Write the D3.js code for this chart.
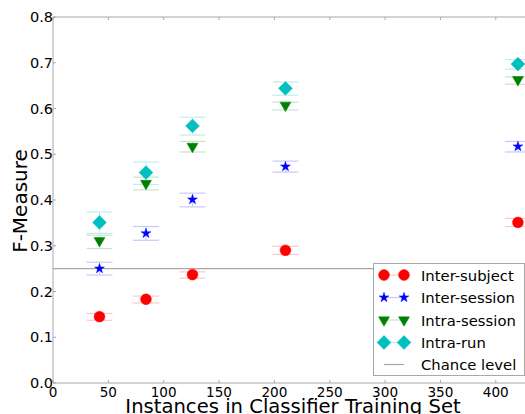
<!DOCTYPE html>
<html>
<head>
<meta charset="utf-8">
<script src="https://cdn.jsdelivr.net/npm/d3@7"></script>
<style>
  html, body { margin: 0; padding: 0; background: #fff; overflow: hidden; }
  svg { display: block; font-family: "DejaVu Sans", sans-serif; }
</style>
</head>
<body>
<div id="chart"></div>
<script>
// Data
const instances = [42, 84, 126, 210, 420];
const xTicks = [0, 50, 100, 150, 200, 250, 300, 350, 400];
const yTicks = [0.0, 0.1, 0.2, 0.3, 0.4, 0.5, 0.6, 0.7, 0.8];
const chanceLevel = 0.25;

const interSubject   = [0.145, 0.183, 0.237, 0.290, 0.351];
const interSubjectLo = [0.137, 0.175, 0.229, 0.281, 0.342];
const interSubjectHi = [0.152, 0.190, 0.243, 0.299, 0.360];

const interSession   = [0.250, 0.327, 0.401, 0.473, 0.517];
const interSessionLo = [0.236, 0.312, 0.385, 0.461, 0.505];
const interSessionHi = [0.264, 0.342, 0.415, 0.485, 0.528];

const intraSession   = [0.311, 0.436, 0.517, 0.607, 0.663];
const intraSessionLo = [0.294, 0.422, 0.505, 0.597, 0.653];
const intraSessionHi = [0.323, 0.450, 0.528, 0.614, 0.669];

const intraRun   = [0.351, 0.460, 0.562, 0.644, 0.697];
const intraRunLo = [0.327, 0.434, 0.542, 0.629, 0.686];
const intraRunHi = [0.374, 0.483, 0.581, 0.658, 0.707];

const seriesNames = ["Inter-subject", "Inter-session", "Intra-session", "Intra-run"];

// Layout
const W = 525, H = 414;
const margin = {top: 17, left: 53};
const plotBottom = 383;
const plotRight = 529;

const svg = d3.select("#chart").append("svg")
  .attr("width", W)
  .attr("height", H);

const x = d3.scaleLinear().domain([0, 430]).range([margin.left, plotRight]);
const y = d3.scaleLinear().domain([0, 0.8]).range([plotBottom, margin.top]);

const spine = "#a8a8a8";

// Series setup (marker shapes and colours)
const series = [
  {name: seriesNames[0], vals: interSubject, lo: interSubjectLo, hi: interSubjectHi,
   color: "#ff0000", light: "#ffc8c8", sym: d3.symbolCircle, size: 92, rot: 0},
  {name: seriesNames[1], vals: interSession, lo: interSessionLo, hi: interSessionHi,
   color: "#0000ff", light: "#c8c8ff", sym: d3.symbolStar, size: 30, rot: 0},
  {name: seriesNames[2], vals: intraSession, lo: intraSessionLo, hi: intraSessionHi,
   color: "#008000", light: "#c8e4c8", sym: d3.symbolTriangle, size: 52, rot: 180},
  {name: seriesNames[3], vals: intraRun, lo: intraRunLo, hi: intraRunHi,
   color: "#00bfbf", light: "#c0eeee", sym: d3.symbolSquare, size: 95, rot: 45}
];

// Frame (left, top, bottom spines)
svg.append("line").attr("x1", margin.left).attr("x2", margin.left)
  .attr("y1", margin.top).attr("y2", plotBottom).attr("stroke", spine);
svg.append("line").attr("x1", margin.left).attr("x2", W)
  .attr("y1", margin.top).attr("y2", margin.top).attr("stroke", spine);
svg.append("line").attr("x1", margin.left).attr("x2", W)
  .attr("y1", plotBottom).attr("y2", plotBottom).attr("stroke", spine);

// Inward tick marks
svg.selectAll(".xtb").data(xTicks).join("line")
  .attr("x1", d => x(d)).attr("x2", d => x(d))
  .attr("y1", plotBottom).attr("y2", plotBottom - 3).attr("stroke", spine);
svg.selectAll(".xtt").data(xTicks).join("line")
  .attr("x1", d => x(d)).attr("x2", d => x(d))
  .attr("y1", margin.top).attr("y2", margin.top + 3).attr("stroke", spine);
svg.selectAll(".ytl").data(yTicks).join("line")
  .attr("x1", margin.left).attr("x2", margin.left + 3)
  .attr("y1", d => y(d)).attr("y2", d => y(d)).attr("stroke", spine);

// Tick labels
svg.selectAll(".xlab").data(xTicks).join("text")
  .attr("x", d => x(d)).attr("y", 396.5)
  .attr("text-anchor", "middle")
  .style("font-size", "13.6px")
  .text(d => d);
svg.selectAll(".ylab").data(yTicks).join("text")
  .attr("x", 53).attr("y", d => y(d) + 5)
  .attr("text-anchor", "end")
  .style("font-size", "14.5px")
  .text(d => d.toFixed(1));

// Axis labels
svg.append("text")
  .attr("x", 293).attr("y", 413)
  .attr("text-anchor", "middle")
  .style("font-size", "19.6px")
  .text("Instances in Classifier Training Set");
svg.append("text")
  .attr("transform", "translate(27,201) rotate(-90)")
  .attr("text-anchor", "middle")
  .style("font-size", "20px")
  .text("F-Measure");

// Chance level line
svg.append("line")
  .attr("x1", margin.left).attr("x2", W)
  .attr("y1", y(chanceLevel)).attr("y2", y(chanceLevel))
  .attr("stroke", spine).attr("stroke-width", 1.2);

// Error bars
const capHalf = 13;
series.forEach(s => {
  const g = svg.append("g");
  instances.forEach((inst, i) => {
    const cx = x(inst);
    g.append("line").attr("x1", cx).attr("x2", cx)
      .attr("y1", y(s.lo[i])).attr("y2", y(s.hi[i]))
      .attr("stroke", s.light).attr("stroke-width", 1);
    [s.lo[i], s.hi[i]].forEach(v => {
      g.append("line").attr("x1", cx - capHalf).attr("x2", cx + capHalf)
        .attr("y1", y(v)).attr("y2", y(v))
        .attr("stroke", s.light).attr("stroke-width", 1.2);
    });
  });
});

// Markers
series.forEach(s => {
  svg.append("g").selectAll("path")
    .data(instances.map((inst, i) => ({inst, v: s.vals[i]})))
    .join("path")
    .attr("d", d3.symbol().type(s.sym).size(s.size))
    .attr("transform", d => `translate(${x(d.inst)},${y(d.v)}) rotate(${s.rot})`)
    .attr("fill", s.color)
    .attr("stroke", s.color)
    .attr("stroke-width", 0.5);
});

// Legend
const lg = svg.append("g");
lg.append("rect")
  .attr("x", 373.5).attr("y", 263.5)
  .attr("width", 151).attr("height", 112)
  .attr("fill", "#fff").attr("stroke", spine);

const rowY = [275, 297.5, 320, 342.5, 364.5];
series.forEach((s, i) => {
  lg.append("line").attr("x1", 384).attr("x2", 404)
    .attr("y1", rowY[i]).attr("y2", rowY[i])
    .attr("stroke", s.light).attr("stroke-width", 1.2);
  [384, 404].forEach(px => {
    lg.append("path")
      .attr("d", d3.symbol().type(s.sym).size(s.size)())
      .attr("transform", `translate(${px},${rowY[i]}) rotate(${s.rot})`)
      .attr("fill", s.color).attr("stroke", s.color).attr("stroke-width", 0.5);
  });
  lg.append("text").attr("x", 421).attr("y", rowY[i] + 5.5)
    .style("font-size", "14.8px").text(s.name);
});
lg.append("line").attr("x1", 384).attr("x2", 404)
  .attr("y1", rowY[4]).attr("y2", rowY[4])
  .attr("stroke", spine).attr("stroke-width", 1.2);
lg.append("text").attr("x", 421).attr("y", rowY[4] + 5.5)
  .style("font-size", "14.8px").text("Chance level");
</script>
</body>
</html>
